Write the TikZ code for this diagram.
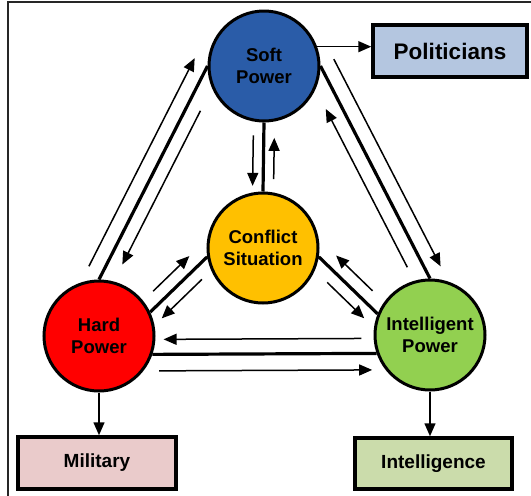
\documentclass[tikz,border=0pt]{standalone}
\usepackage{fontspec}
\setmainfont{Liberation Sans}
\usetikzlibrary{arrows.meta,calc}
\definecolor{softblue}{HTML}{2A5CA8}
\definecolor{conflictgold}{HTML}{FFC000}
\definecolor{hardred}{HTML}{FF0000}
\definecolor{intgreen}{HTML}{92D050}
\definecolor{polblue}{HTML}{B4C6E0}
\definecolor{milpink}{HTML}{EACBCB}
\definecolor{intelgreen}{HTML}{CBDCAB}
\newcommand\parArrow[6]{%
  \draw[flow] ($(#1)!#3!(#2)!#5!#6:(#2)$) -- ($(#1)!#4!(#2)!#5!#6:(#2)$);}
\begin{document}
\begin{tikzpicture}[x=1pt,y=-1pt,
  circ/.style={circle, draw=black, line width=3pt, minimum size=110pt,
    inner sep=0pt, align=center, font=\fontsize{18.5}{22}\selectfont\bfseries},
  box/.style={draw=black, line width=3.5pt, inner sep=0pt,
    font=\fontsize{19}{23}\selectfont\bfseries},
  heavy/.style={line width=3.2pt},
  flow/.style={line width=1.5pt, -{Triangle[length=13pt,width=11pt]}},
]
\useasboundingbox (0,0) rectangle (531,496);
\draw[line width=1.5pt, draw=black!85] (8,496) -- (8,2) -- (531,2);

% circles
\node[circ, fill=softblue] (S) at (264,66) {Soft\\Power};
\node[circ, fill=conflictgold] (C) at (263,248) {Conflict\\Situation};
\node[circ, fill=hardred] (H) at (99,336) {Hard\\Power};
\node[circ, fill=intgreen] (I) at (430,335) {Intelligent\\Power};

% boxes
\node[box, fill=polblue, minimum width=154pt, minimum height=52pt,
  font=\fontsize{22.5}{26}\selectfont\bfseries] (P) at (450,51) {Politicians};
\node[box, fill=milpink, minimum width=158pt, minimum height=52pt] (M) at (97,463) {Military};
\node[box, fill=intelgreen, minimum width=157pt, minimum height=51pt] (N) at (433.5,463.5) {Intelligence};

% heavy links
\draw[heavy] (S.west) -- (H.north);
\draw[heavy] (S.east) -- (I.north);
\draw[heavy] (S.south) -- (C.north);
\draw[heavy] (C.189) -- (H.25);
\draw[heavy] (C.351) -- (I.158);
\draw[heavy] (H.341) -- (I.199);

% parallel arrows
\parArrow{S.west}{H.north}{0.97}{-0.005}{15pt}{-90}
\parArrow{S.west}{H.north}{0.18}{0.90}{14pt}{90}
\parArrow{S.east}{I.north}{0.0}{0.975}{15pt}{90}
\parArrow{S.east}{I.north}{0.915}{0.17}{15pt}{-90}
\parArrow{S.south}{C.north}{0.19}{0.92}{10.5pt}{-90}
\parArrow{S.south}{C.north}{0.82}{0.22}{10.5pt}{90}
\parArrow{C.189}{H.25}{0.79}{0.155}{13pt}{-90}
\parArrow{C.189}{H.25}{0.245}{0.95}{12.5pt}{90}
\parArrow{C.351}{I.158}{0.76}{0.14}{13pt}{90}
\parArrow{C.351}{I.158}{0.29}{0.92}{12.5pt}{-90}
\parArrow{H.341}{I.199}{0.933}{0.05}{15pt}{90}
\parArrow{H.341}{I.199}{0.03}{0.98}{16.5pt}{-90}

% outputs
\draw[flow] (S.20) -- (S.20 -| P.west);
\draw[flow] (H.south) -- (H.south |- M.north);
\draw[flow] (I.south) -- (I.south |- N.north);
\end{tikzpicture}
\end{document}
